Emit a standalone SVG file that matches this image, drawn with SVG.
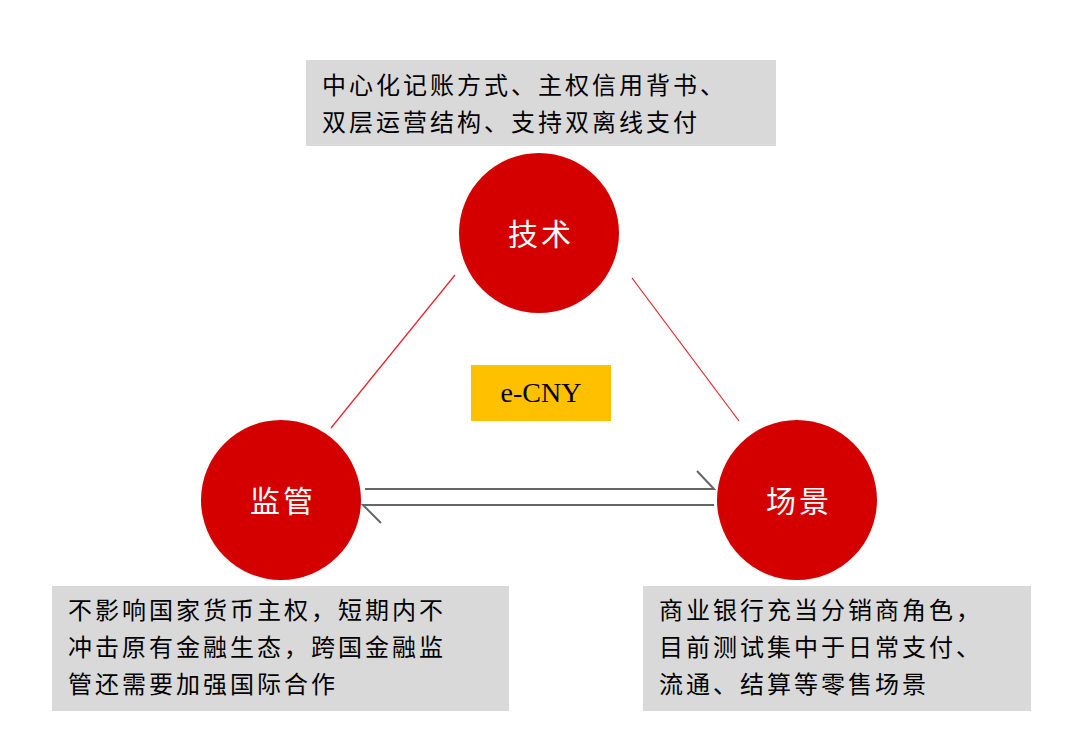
<svg xmlns="http://www.w3.org/2000/svg" width="1080" height="751" viewBox="0 0 1080 751">
<style>
.box{fill:#d9d9d9}
.t{font-family:"Liberation Serif","Noto Sans CJK SC",serif;font-size:24px;fill:#000;letter-spacing:3px}
.c{fill:#d40000}
.ct{font-family:"Liberation Serif","Noto Sans CJK SC",serif;font-size:30px;fill:#fff;text-anchor:middle;letter-spacing:3px}
.red{stroke:#e8202a;stroke-width:1.2;fill:none}
.g{stroke:#666;stroke-width:2;fill:none}
</style>
<rect width="1080" height="751" fill="#fff"/>
<g id="connectors">
<line class="red" x1="455" y1="275" x2="331" y2="428"/>
<line class="red" x1="632" y1="278" x2="739" y2="421"/>
<polyline class="g" points="365,489 714,489 697,471"/>
<polyline class="g" points="714,505 363,505 381,523"/>
</g>
<g id="top-note"><rect class="box" x="306" y="60" width="470" height="86"/>
<text class="t" x="322" y="94">中心化记账方式、主权信用背书、</text>
<text class="t" x="322" y="131">双层运营结构、支持双离线支付</text></g>
<g id="tech"><circle class="c" cx="539" cy="233" r="80"/><text class="ct" x="541" y="245">技术</text></g>
<g id="ecny"><rect x="471" y="365" width="140" height="56" fill="#ffc000"/>
<text x="541" y="402" text-anchor="middle" style="font-family:'Liberation Serif',serif;font-size:28px">e-CNY</text></g>
<g id="reg"><circle class="c" cx="281" cy="500" r="80"/><text class="ct" x="283" y="512">监管</text></g>
<g id="scene"><circle class="c" cx="797" cy="500" r="80"/><text class="ct" x="799" y="512">场景</text></g>
<g id="left-note"><rect class="box" x="52" y="586" width="457" height="125"/>
<text class="t" x="68" y="619">不影响国家货币主权，短期内不</text>
<text class="t" x="68" y="656">冲击原有金融生态，跨国金融监</text>
<text class="t" x="68" y="693">管还需要加强国际合作</text></g>
<g id="right-note"><rect class="box" x="643" y="586" width="388" height="125"/>
<text class="t" x="659" y="619">商业银行充当分销商角色，</text>
<text class="t" x="659" y="656">目前测试集中于日常支付、</text>
<text class="t" x="659" y="693">流通、结算等零售场景</text></g>
</svg>
